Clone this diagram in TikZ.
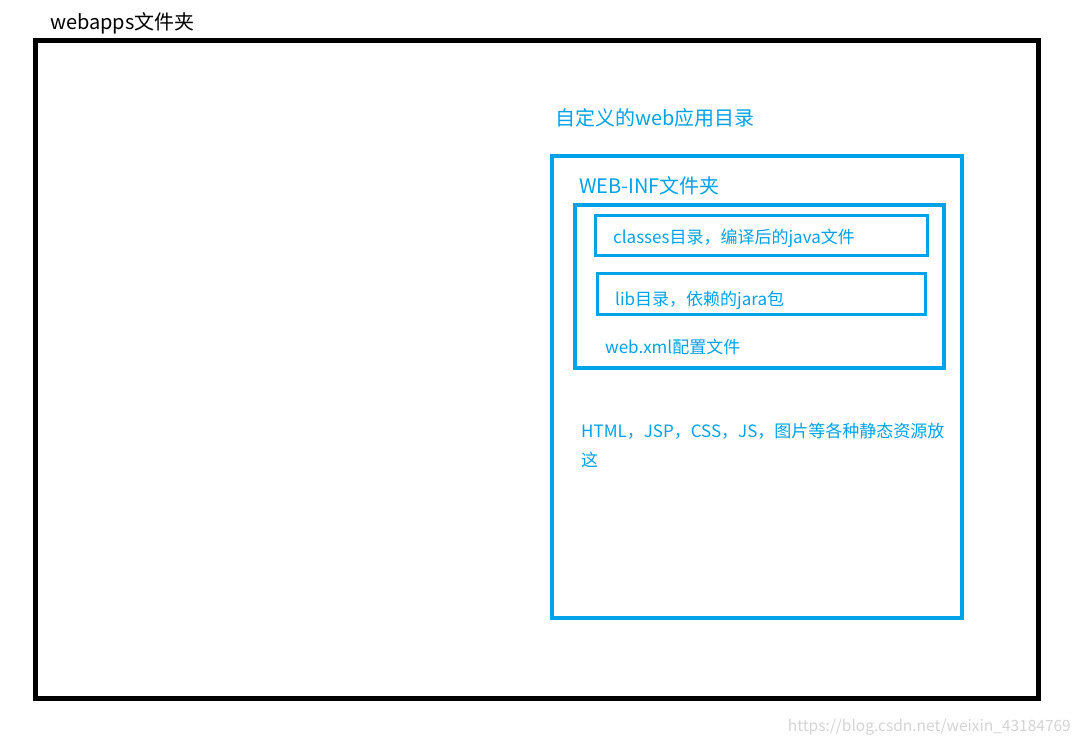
\documentclass[tikz,border=0pt]{standalone}
\usepackage{fontspec}
\setmainfont{Noto Sans CJK SC}
\definecolor{skyblue}{RGB}{0,162,232}
\definecolor{wmgray}{RGB}{212,212,212}
\begin{document}
\begin{tikzpicture}[x=1pt,y=-1pt,
  outerbox/.style={draw=black,line width=5pt},
  bluebox/.style={draw=skyblue,line width=4pt},
  innerbox/.style={draw=skyblue,line width=3pt},
  bigtxt/.style={anchor=west,inner sep=0pt,font=\fontsize{20}{24}\selectfont},
  smalltxt/.style={anchor=west,inner sep=0pt,text=skyblue,font=\fontsize{17}{29}\selectfont}]
\useasboundingbox[fill=white] (0,0) rectangle (1081,746);
\draw[outerbox] (35.5,41) rectangle (1038,698.5);
\node[bigtxt] (webapps) at (50,23) {webapps文件夹};
\node[bigtxt,text=skyblue] (app) at (555,118) {自定义的web应用目录};
\draw[bluebox] (552,156) rectangle (962,618);
\node[bigtxt,text=skyblue] (webinf) at (579,186) {WEB-INF文件夹};
\draw[bluebox] (575,205) rectangle (944,368);
\draw[innerbox] (595.5,215.5) rectangle (927,255.5);
\node[smalltxt] (classes) at (613,238) {classes目录，编译后的java文件};
\draw[innerbox] (597.5,273.5) rectangle (925,314);
\node[smalltxt] (lib) at (615,300) {lib目录，依赖的jara包};
\node[smalltxt] (webxml) at (605,347) {web.xml配置文件};
\node[smalltxt,anchor=north west,align=left] (static) at (581,423) {HTML，JSP，CSS，JS，图片等各种静态资源放\\这};
\node[anchor=east,inner sep=0pt,text=wmgray,font=\fontsize{15.5}{18}\selectfont] (wm) at (1071,727) {https://blog.csdn.net/weixin\_43184769};
\end{tikzpicture}
\end{document}
